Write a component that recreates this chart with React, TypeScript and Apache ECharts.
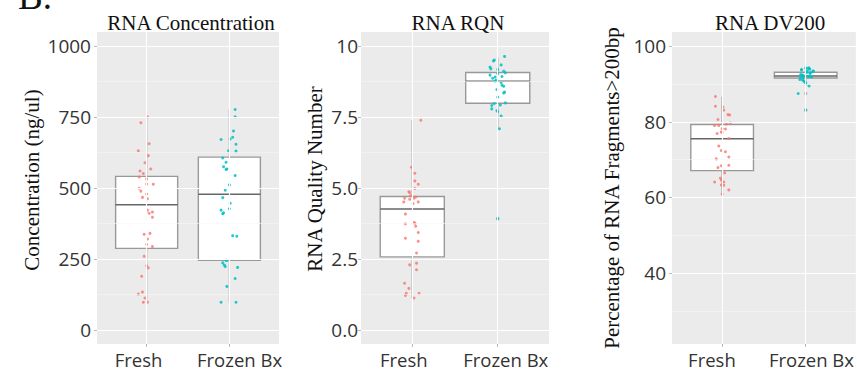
import React, { useEffect, useRef } from 'react';
import * as echarts from 'echarts';

// ---------- data ----------
const categories = ['Fresh', 'Frozen Bx'];
const panelTitles = ['RNA Concentration', 'RNA RQN', 'RNA DV200'];
const yAxisNames = ['Concentration (ng/ul)', 'RNA Quality Number', 'Percentage of RNA Fragments>200bp'];

const concTicks = [0, 250, 500, 750, 1000];
const concTickLabels = ['0', '250', '500', '750', '1000'];
const concMinor = [125, 375, 625, 875];
const rqnTicks = [0, 2.5, 5, 7.5, 10];
const rqnTickLabels = ['0.0', '2.5', '5.0', '7.5', '10'];
const rqnMinor = [1.25, 3.75, 6.25, 8.75];
const dvTicks = [40, 60, 80, 100];
const dvTickLabels = ['40', '60', '80', '100'];
const dvMinor = [30, 50, 70, 90];

// box stats: [min, Q1, median, Q3, max]
const concBoxFresh = [97, 287, 441, 541, 751];
const concBoxFrozen = [97, 245, 478, 609, 777];
const rqnBoxFresh = [1.12, 2.57, 4.26, 4.7, 7.39];
const rqnBoxFrozen = [7.1, 7.99, 8.76, 9.07, 9.6];
const rqnOutliersFrozen = [3.92];
const dvBoxFresh = [60.6, 67.1, 75.5, 79.3, 86.6];
const dvBoxFrozen = [89.5, 91.6, 92.1, 93.1, 94.3];
const dvOutliersFrozen = [87.5, 83.1];

// jittered points: values and horizontal jitter (category units)
const concFreshValues = [751, 730, 656, 631, 614, 589, 567, 560, 551, 539, 532, 513, 514, 499, 489, 479, 467, 462, 422, 415, 411, 397, 337, 340, 320, 301, 294, 259, 226, 219, 189, 133, 126, 112, 97, 97];
const concFreshJitter = [0.01, -0.07, 0.03, -0.1, 0.02, -0.02, 0.05, -0.08, -0.04, -0.09, 0, 0.08, 0, -0.09, -0.07, 0, -0.05, 0.01, 0.01, 0.07, 0.03, 0.07, -0.03, 0.04, 0.01, 0, 0.07, -0.03, 0, 0.02, -0.06, -0.05, -0.1, -0.02, -0.04, 0.01];
const concFrozenValues = [777, 751, 701, 679, 673, 671, 654, 631, 630, 606, 591, 575, 567, 565, 544, 511, 492, 466, 446, 422, 427, 413, 409, 332, 330, 245, 245, 236, 228, 223, 220, 181, 153, 97, 97];
const concFrozenJitter = [0.07, 0.07, 0.05, 0.04, 0.01, -0.1, 0.08, -0.01, 0.08, -0.08, -0.04, -0.07, -0.03, -0.04, 0.07, 0, -0.05, -0.08, 0.01, -0.1, 0, -0.07, -0.08, 0.04, 0.09, -0.04, -0.03, -0.08, -0.06, -0.05, 0.1, 0.07, -0.03, -0.1, 0.08];

const rqnFreshValues = [7.39, 5.73, 5.52, 5.25, 5.13, 4.98, 4.87, 4.84, 4.73, 4.68, 4.64, 4.64, 4.6, 4.51, 4.51, 4.45, 4.08, 3.78, 3.76, 3.74, 3.65, 3.43, 3.23, 3.12, 2.71, 2.35, 2.29, 2.12, 1.64, 1.46, 1.29, 1.29, 1.21, 1.12];
const rqnFreshJitter = [0.1, -0.01, 0.03, 0.03, 0.07, 0.03, -0.04, -0.03, -0.02, 0.04, 0.02, -0.09, -0.03, -0.1, 0.07, 0.01, -0.08, 0.02, 0.03, -0.08, 0.04, 0.07, -0.08, 0.07, 0.05, 0.05, -0.03, 0.05, -0.09, -0.04, -0.07, 0.08, -0.08, 0.02];
const rqnFrozenValues = [9.64, 9.51, 9.48, 9.34, 9.26, 9.2, 9.18, 9.12, 9.06, 9.03, 8.98, 8.93, 8.91, 8.87, 8.8, 8.77, 8.72, 8.62, 8.59, 8.47, 8.38, 8.35, 8.2, 8.0, 7.98, 7.93, 7.91, 7.79, 7.73, 7.69, 7.54, 7.09, 3.92];
const rqnFrozenJitter = [0.08, -0.04, -0.05, 0.04, -0.09, -0.08, 0, 0.07, 0.09, 0, -0.09, 0.05, -0.03, -0.06, -0.02, -0.03, 0.04, 0.05, 0.07, -0.01, 0.08, 0.07, 0, 0.09, -0.04, 0.03, -0.07, -0.07, -0.01, 0, 0.04, 0.02, 0];

const dvFreshValues = [86.7, 84.1, 83.9, 83.1, 81.9, 81.8, 80.6, 79.7, 79.4, 79.0, 79.0, 78.2, 78.1, 77.3, 77.2, 76.9, 75.6, 73.6, 72.4, 72.1, 70.7, 70.2, 68.4, 68.5, 67.9, 66.5, 65.1, 64.6, 64.1, 64.1, 63.3, 63.2, 62.0, 60.9];
const dvFreshJitter = [-0.08, -0.08, 0.01, 0.02, 0.07, 0.09, -0.05, 0.1, 0.05, -0.09, -0.04, 0, 0.04, -0.01, 0, -0.06, 0.08, -0.04, -0.01, 0.04, 0.08, -0.07, -0.01, 0.08, -0.05, 0.03, -0.02, -0.01, -0.09, 0.02, -0.01, 0.02, 0.08, 0];
const dvFrozenValues = [93.8, 94.2, 94.2, 93.5, 93.4, 92.8, 92.4, 92.1, 91.8, 91.6, 92.0, 91.9, 91.1, 90.7, 90.2, 89.5, 87.5, 83.1, 93.7, 94.2, 93.9, 93.4, 92.5, 92.3, 93.0, 93.0, 91.9, 91.9, 91.2, 90.8, 90.3];
const dvFrozenJitter = [-0.05, 0, 0.04, 0.02, 0.09, 0.05, -0.04, -0.01, -0.06, -0.03, 0.04, 0.07, -0.04, -0.02, 0, 0.04, -0.09, 0, -0.05, 0.03, 0.05, 0.09, -0.06, -0.04, 0.01, 0.06, 0.07, 0.03, -0.07, -0.02, 0];

// ---------- styles ----------
const FRESH_COLOR = '#F8766D';
const FROZEN_COLOR = '#00BFC4';
const SERIF = '"Liberation Serif", "Times New Roman", serif';
const SANS = '"Open Sans", "Noto Sans", sans-serif';
const BOX_HALF = 0.375;

interface Panel {
  grid: { left: number; right: number; top: number; bottom: number };
  yMin: number; yMax: number;
  ticks: number[]; tickLabels: string[]; minor: number[];
  boxes: number[][];
  fresh: [number[], number[]];
  frozen: [number[], number[]];
  outliers: number[];
  labelPos: number[];
  labelMargin: number;
  nameGap: number;
  nameShift: number;
  titleX: number;
}

const panels: Panel[] = [
  {
    grid: { left: 97, right: 578, top: 32, bottom: 32 },
    yMin: -50, yMax: 1050,
    ticks: concTicks, tickLabels: concTickLabels, minor: concMinor,
    boxes: [concBoxFresh, concBoxFrozen],
    fresh: [concFreshValues, concFreshJitter],
    frozen: [concFrozenValues, concFrozenJitter],
    outliers: [],
    labelPos: [0.902, 2.123], labelMargin: 6, nameGap: 55, nameShift: 16, titleX: 186,
  },
  {
    grid: { left: 361, right: 308, top: 32, bottom: 32 },
    yMin: -0.5, yMax: 10.5,
    ticks: rqnTicks, tickLabels: rqnTickLabels, minor: rqnMinor,
    boxes: [rqnBoxFresh, rqnBoxFrozen],
    fresh: [rqnFreshValues, rqnFreshJitter],
    frozen: [rqnFrozenValues, rqnFrozenJitter],
    outliers: rqnOutliersFrozen,
    labelPos: [0.9, 2.094], labelMargin: 3, nameGap: 36, nameShift: 18, titleX: 453,
  },
  {
    grid: { left: 672, right: -3, top: 32, bottom: 32 },
    yMin: 21.25, yMax: 103.75,
    ticks: dvTicks, tickLabels: dvTickLabels, minor: dvMinor,
    boxes: [dvBoxFresh, dvBoxFrozen],
    fresh: [dvFreshValues, dvFreshJitter],
    frozen: [dvFrozenValues, dvFrozenJitter],
    outliers: dvOutliersFrozen,
    labelPos: [0.878, 2.069], labelMargin: 6, nameGap: 50, nameShift: 0, titleX: 765,
  },
];

function buildOption() {
  const grids: any[] = [];
  const xAxes: any[] = [];
  const yAxes: any[] = [];
  const series: any[] = [];
  const titles: any[] = [];

  panels.forEach((p, i) => {
    grids.push({ ...p.grid, show: true, backgroundColor: '#EBEBEB', borderWidth: 0, containLabel: false });
    xAxes.push({
      type: 'value', gridIndex: i, min: 0.4, max: 2.6,
      axisLine: { show: false, onZero: false },
      axisTick: { show: true, customValues: [1, 2], length: 3, lineStyle: { color: '#bbb', width: 1 } },
      splitLine: { show: false },
      axisLabel: {
        customValues: p.labelPos,
        formatter: (v: number) => (v < 1.5 ? categories[0] : categories[1]),
        margin: 6, fontFamily: SANS, fontSize: 18.5, color: '#333',
      },
    });
    yAxes.push({
      type: 'value', gridIndex: i, min: p.yMin, max: p.yMax,
      axisLine: { show: false, onZero: false },
      axisTick: { show: true, customValues: p.ticks, length: 3, lineStyle: { color: '#bbb', width: 1 } },
      splitLine: { show: false },
      axisLabel: {
        customValues: p.ticks,
        formatter: (v: number) => {
          const k = p.ticks.findIndex((t) => Math.abs(t - v) < 1e-6);
          return k >= 0 ? p.tickLabels[k] : '';
        },
        margin: p.labelMargin, fontFamily: SANS, fontSize: 19, color: '#333',
        padding: [8, 0, 0, 0],
      },
      name: yAxisNames[i], nameLocation: 'middle', nameGap: p.nameGap,
      nameTextStyle: { fontFamily: SERIF, fontSize: 21, color: '#111', padding: [0, 0, 0, p.nameShift] },
    });
    titles.push({
      text: panelTitles[i], left: p.titleX, top: 7, textAlign: 'center',
      textStyle: { fontFamily: SERIF, fontSize: 21, fontWeight: 'normal', color: '#111' },
    });

    // grid lines
    series.push({
      type: 'line', xAxisIndex: i, yAxisIndex: i, data: [], silent: true, z: 1,
      markLine: {
        silent: true, symbol: ['none', 'none'], label: { show: false }, animation: false,
        data: [
          ...p.minor.map((v) => ({ yAxis: v, lineStyle: { color: '#F7F7F7', width: 0.6, type: 'solid' } })),
          ...p.ticks.map((v) => ({ yAxis: v, lineStyle: { color: '#FFFFFF', width: 1.1, type: 'solid' } })),
          ...[1, 2].map((v) => ({ xAxis: v, lineStyle: { color: '#FFFFFF', width: 1.1, type: 'solid' } })),
        ],
      },
    });

    // boxes
    series.push({
      type: 'custom', xAxisIndex: i, yAxisIndex: i, z: 2, silent: true,
      data: p.boxes.map((b, k) => [k + 1, ...b]),
      encode: { x: 0, y: [1, 2, 3, 4, 5] },
      renderItem: (_params: any, api: any) => {
        const x = api.value(0);
        const pMin = api.coord([x, api.value(1)]);
        const pQ1 = api.coord([x, api.value(2)]);
        const pMed = api.coord([x, api.value(3)]);
        const pQ3 = api.coord([x, api.value(4)]);
        const pMax = api.coord([x, api.value(5)]);
        const left = api.coord([x - BOX_HALF, api.value(3)])[0];
        const right = api.coord([x + BOX_HALF, api.value(3)])[0];
        const wStyle = { stroke: '#8c8c8c', lineWidth: 1.2 };
        return {
          type: 'group',
          children: [
            { type: 'line', shape: { x1: pMax[0], y1: pMax[1], x2: pQ3[0], y2: pQ3[1] }, style: wStyle },
            { type: 'line', shape: { x1: pQ1[0], y1: pQ1[1], x2: pMin[0], y2: pMin[1] }, style: wStyle },
            { type: 'rect', shape: { x: left, y: pQ3[1], width: right - left, height: pQ1[1] - pQ3[1] }, style: { fill: '#FFFFFF', stroke: '#999999', lineWidth: 1.4 } },
            { type: 'line', shape: { x1: left, y1: pMed[1], x2: right, y2: pMed[1] }, style: { stroke: '#666666', lineWidth: 1.5 } },
          ],
        };
      },
    });

    if (p.outliers.length) {
      series.push({
        type: 'scatter', xAxisIndex: i, yAxisIndex: i, z: 3, silent: true,
        symbolSize: 3.5, itemStyle: { color: '#aaaaaa' },
        data: p.outliers.map((v) => [2, v]),
      });
    }
    series.push({
      type: 'scatter', xAxisIndex: i, yAxisIndex: i, z: 4, silent: true,
      symbolSize: 3, itemStyle: { color: FRESH_COLOR, opacity: 0.8 },
      data: p.fresh[0].map((v, k) => [1 + p.fresh[1][k], v]),
    });
    series.push({
      type: 'scatter', xAxisIndex: i, yAxisIndex: i, z: 4, silent: true,
      symbolSize: 3, itemStyle: { color: FROZEN_COLOR, opacity: 0.85 },
      data: p.frozen[0].map((v, k) => [2 + p.frozen[1][k], v]),
    });
  });

  return {
    animation: false,
    backgroundColor: '#FFFFFF',
    title: titles,
    grid: grids,
    xAxis: xAxes,
    yAxis: yAxes,
    series,
    graphic: [
      {
        type: 'text', left: 18, top: -22,
        style: { text: 'B.', fontFamily: SERIF, fontSize: 37, fill: '#111' },
      },
    ],
  };
}

export default function App() {
  const ref = useRef<HTMLDivElement>(null);
  useEffect(() => {
    document.body.style.margin = '0';
    if (!ref.current) return;
    const chart = echarts.init(ref.current, null, { renderer: 'svg' });
    chart.setOption(buildOption() as any);
    return () => chart.dispose();
  }, []);
  return <div ref={ref} style={{ position: 'absolute', left: 0, top: 0, width: 857, height: 376 }} />;
}
